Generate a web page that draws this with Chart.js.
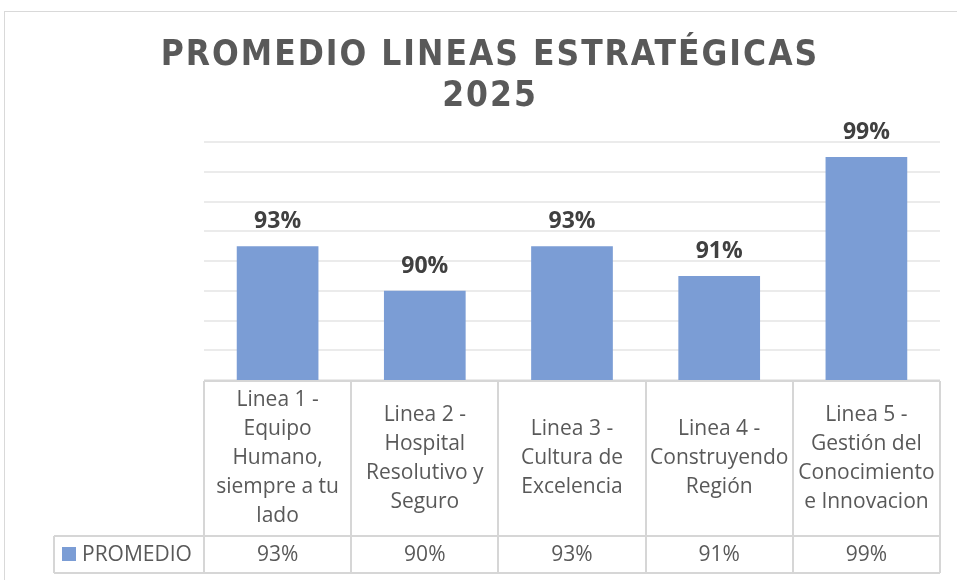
<!DOCTYPE html>
<html>
<head>
<meta charset="utf-8">
<script src="https://cdn.jsdelivr.net/npm/chart.js@4/dist/chart.umd.min.js"></script>
<style>
  html, body { margin: 0; padding: 0; background: #fff; overflow: hidden; }
  canvas { display: block; }
</style>
</head>
<body>
<canvas id="grafico" width="957" height="580"></canvas>
<script>
// Datos del grafico
const categorias = [
    ['Linea 1 -', 'Equipo', 'Humano,', 'siempre a tu', 'lado'],
    ['Linea 2 -', 'Hospital', 'Resolutivo y', 'Seguro'],
    ['Linea 3 -', 'Cultura de', 'Excelencia'],
    ['Linea 4 -', 'Construyendo', 'Región'],
    ['Linea 5 -', 'Gestión del', 'Conocimiento', 'e Innovacion']
];
const promedio = [93, 90, 93, 91, 99];
const nombreSerie = 'PROMEDIO';
const titulo = ['PROMEDIO LINEAS ESTRATÉGICAS', '2025'];

const colorBarra = '#7b9dd5';
const colorBorde = '#d6d6d6';

// Titulo (con espaciado de letras), etiquetas sobre las barras y tabla de datos
const tablaPlugin = {
    id: 'tabla',
    afterDatasetsDraw(chart) {
        const ctx = chart.ctx;
        const area = chart.chartArea;
        const x = chart.scales.x;
        const meta = chart.getDatasetMeta(0);
        const ancho = (area.right - area.left) / categorias.length;

        ctx.save();
        // titulo
        ctx.fillStyle = '#595959';
        ctx.font = 'bold 35px "DejaVu Sans Condensed", "DejaVu Sans"';
        ctx.textAlign = 'center';
        ctx.textBaseline = 'alphabetic';
        ctx.letterSpacing = '2px';
        ctx.fillText(titulo[0], 490, 65);
        ctx.fillText(titulo[1], 490, 106);
        ctx.letterSpacing = '0px';

        // etiquetas de datos
        ctx.fillStyle = '#404040';
        ctx.font = 'bold 23px "Open Sans"';
        meta.data.forEach((bar, i) => {
            ctx.fillText(promedio[i] + '%', bar.x, bar.y - 18);
        });

        // tabla
        const top = area.bottom + 1;
        const filaY = 536;
        const fondo = 573;
        const izq = 54;
        ctx.strokeStyle = colorBorde;
        ctx.lineWidth = 2;
        ctx.beginPath();
        ctx.moveTo(area.left, top); ctx.lineTo(area.right, top);
        ctx.moveTo(izq, filaY); ctx.lineTo(area.right, filaY);
        ctx.moveTo(izq, fondo); ctx.lineTo(area.right, fondo);
        ctx.moveTo(izq, filaY); ctx.lineTo(izq, fondo);
        for (let i = 0; i <= categorias.length; i++) {
            const px = Math.round(area.left + i * ancho);
            ctx.moveTo(px, top); ctx.lineTo(px, fondo);
        }
        ctx.stroke();

        ctx.fillStyle = '#595959';
        ctx.font = '21px "Open Sans"';
        ctx.textBaseline = 'middle';
        const alto = 29;
        const centroCab = (top + filaY) / 2;
        categorias.forEach((lineas, i) => {
            const cx = x.getPixelForValue(i);
            const y0 = centroCab - (lineas.length - 1) * alto / 2;
            lineas.forEach((l, j) => ctx.fillText(l, cx, y0 + j * alto));
            ctx.fillText(promedio[i] + '%', cx, (filaY + fondo) / 2 + 1);
        });

        // leyenda en la tabla
        ctx.fillStyle = colorBarra;
        ctx.fillRect(62, 547, 14, 14);
        ctx.fillStyle = '#595959';
        ctx.textAlign = 'left';
        ctx.fillText(nombreSerie, 82, (filaY + fondo) / 2 + 1);

        // borde exterior
        ctx.strokeStyle = '#d9d9d9';
        ctx.lineWidth = 1;
        ctx.strokeRect(4.5, 11.5, 1000, 1000);
        ctx.restore();
    }
};

const ctx = document.getElementById('grafico').getContext('2d');
new Chart(ctx, {
    type: 'bar',
    data: {
        labels: categorias,
        datasets: [{
            label: nombreSerie,
            data: promedio,
            backgroundColor: colorBarra,
            borderWidth: 0,
            barPercentage: 0.555,
            categoryPercentage: 1
        }]
    },
    options: {
        responsive: false,
        animation: false,
        layout: { padding: { left: 204, right: 17, top: 142, bottom: 200 } },
        plugins: {
            legend: { display: false },
            tooltip: { enabled: false },
            title: { display: false }
        },
        scales: {
            x: { display: false },
            y: {
                min: 84,
                max: 100,
                ticks: { display: false, stepSize: 2 },
                border: { display: false },
                grid: { color: '#ebebeb', lineWidth: 2, drawTicks: false }
            }
        }
    },
    plugins: [tablaPlugin]
});
</script>
</body>
</html>
